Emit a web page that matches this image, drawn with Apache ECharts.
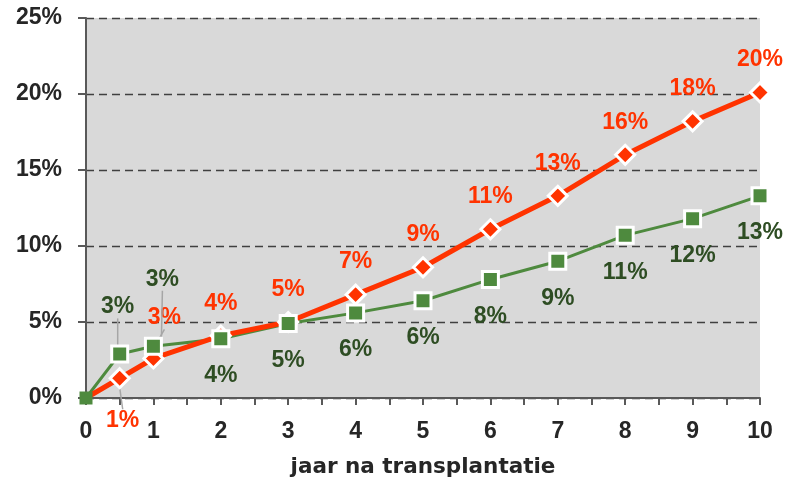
<!DOCTYPE html>
<html>
<head>
<meta charset="utf-8">
<script src="https://cdn.jsdelivr.net/npm/echarts@6/dist/echarts.min.js"></script>
<style>
  html, body { margin: 0; padding: 0; background: #fff; }
  #chart { width: 787px; height: 483px; }
</style>
</head>
<body>
<div id="chart"></div>
<script>
// Years after transplantation (x positions)
const years = [0, 0.5, 1, 2, 3, 4, 5, 6, 7, 8, 9, 10];
// Cumulative percentages per series
const redValues = [0, 1.3, 2.6, 4.1, 5.0, 6.8, 8.6, 11.1, 13.3, 16.0, 18.2, 20.1];
const greenValues = [0, 2.9, 3.4, 3.9, 4.9, 5.6, 6.4, 7.8, 9.0, 10.7, 11.8, 13.3];
// Y tick values
const yTicks = [0, 5, 10, 15, 20, 25];

const FONT = 'Liberation Sans';
const NAME_FONT = 'DejaVu Sans';
const RED = '#FF3300';
const GREEN = '#4E8A3E';
const GREEN_TEXT = '#2E4D23';
const LEADER = { color: '#A6A6A6', width: 1.5 };

function pairs(vals) {
  return years.map((x, i) => [x, vals[i]]);
}

const redData = pairs(redValues).map((p, i) => {
  const item = { value: p };
  if (i === 0) { item.symbol = 'none'; item.label = { show: false }; }
  if (i === 1) { item.label = { position: 'bottom' }; item.labelLine = { show: true }; }
  if (i === 2) { item.labelLine = { show: true }; }
  return item;
});
const greenData = pairs(greenValues).map((p, i) => {
  const item = { value: p };
  if (i === 0) { item.itemStyle = { borderWidth: 0 }; item.label = { show: false }; item.symbolSize = 13; }
  if (i === 1 || i === 2) { item.label = { position: 'top' }; item.labelLine = { show: true }; }
  return item;
});

const chart = echarts.init(document.getElementById('chart'));
chart.setOption({
  animation: false,
  backgroundColor: '#ffffff',
  grid: { left: 86, right: 27, top: 18, bottom: 83, show: true, backgroundColor: '#D9D9D9', borderWidth: 0 },
  xAxis: {
    type: 'value', min: 0, max: 10, interval: 0.5,
    name: 'jaar na transplantatie', nameLocation: 'middle', nameGap: 58,
    nameTextStyle: { fontFamily: NAME_FONT, fontWeight: 'bold', fontSize: 21.5, color: '#262626' },
    axisLine: { show: true, lineStyle: { color: '#595959', width: 2 } },
    axisTick: { show: true, length: 7, lineStyle: { color: '#595959', width: 2 } },
    axisLabel: {
      fontFamily: FONT, fontWeight: 'bold', fontSize: 23, color: '#262626', margin: 22,
      formatter: v => (v % 1 === 0 ? String(v) : '')
    },
    splitLine: { show: false }
  },
  yAxis: {
    type: 'value', min: yTicks[0], max: yTicks[yTicks.length - 1], interval: 5,
    axisLine: { show: true, lineStyle: { color: '#595959', width: 2 } },
    axisTick: { show: true, length: 8, lineStyle: { color: '#595959', width: 2 } },
    axisLabel: { fontFamily: FONT, fontWeight: 'bold', fontSize: 23, color: '#262626', margin: 24, formatter: '{value}%' },
    splitLine: { show: true, lineStyle: { color: '#404040', type: [8, 5], width: 1.3 } }
  },
  series: [
    {
      // green line only, beneath the red line
      name: 'green-line', type: 'line', data: pairs(greenValues), z: 2,
      symbol: 'none', silent: true,
      lineStyle: { color: GREEN, width: 3 }
    },
    {
      name: 'red', type: 'line', data: redData, z: 3,
      symbol: 'diamond', symbolSize: 19,
      lineStyle: { color: RED, width: 5 },
      itemStyle: { color: RED, borderColor: '#ffffff', borderWidth: 3 },
      label: {
        show: true, position: 'top', distance: 10,
        fontFamily: FONT, fontWeight: 'bold', fontSize: 23, color: RED,
        formatter: p => Math.round(p.value[1]) + '%'
      },
      labelLine: { show: false, lineStyle: LEADER },
      labelLayout: function (params) {
        if (params.dataIndex === 1) return { dy: 10, dx: 3 };
        if (params.dataIndex === 2) return { dy: -8, dx: 11 };
        return {};
      }
    },
    {
      // green markers and labels, above the red series
      name: 'green', type: 'line', data: greenData, z: 4,
      symbol: 'rect', symbolSize: 16,
      lineStyle: { opacity: 0 },
      itemStyle: { color: GREEN, borderColor: '#ffffff', borderWidth: 3 },
      label: {
        show: true, position: 'bottom', distance: 16,
        fontFamily: FONT, fontWeight: 'bold', fontSize: 23, color: GREEN_TEXT,
        formatter: p => Math.round(p.value[1]) + '%'
      },
      labelLine: { show: false, lineStyle: LEADER },
      labelLayout: function (params) {
        if (params.dataIndex === 1) return { dy: -10, dx: -2 };
        if (params.dataIndex === 2) return { dy: -30, dx: 9 };
        return {};
      }
    }
  ]
});
</script>
</body>
</html>
